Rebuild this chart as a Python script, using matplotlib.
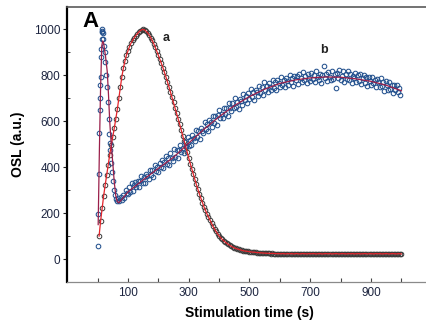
import numpy as np
import matplotlib
matplotlib.use('Agg')
import matplotlib.pyplot as plt

plt.rcParams['font.family'] = ['Liberation Sans', 'DejaVu Sans']

# ── data ──────────────────────────────────────────────────────────────────────
# curve a : 5 s channels, 5 .. 1000 s
t_a = np.arange(5, 1001, 5)
osl_a = [
    100, 165, 222, 275, 322, 365, 410, 455, 495, 532,
    570, 610, 652, 700, 750, 795, 832, 862, 888, 907,
    925, 940, 952, 962, 972, 980, 988, 994, 999, 1000,
    998, 992, 985, 976, 965, 952, 938, 922, 905, 888,
    870, 852, 834, 814, 793, 772, 750, 727, 705, 682,
    658, 635, 612, 588, 563, 538, 514, 490, 465, 440,
    416, 393, 370, 347, 325, 304, 284, 265, 246, 228,
    212, 197, 183, 168, 155, 142, 131, 120, 110, 101,
    93, 86, 80, 74, 69, 64, 60, 56, 52, 49,
    46, 44, 42, 40, 38, 36, 35, 34, 33, 32,
    31, 30, 30, 29, 28, 28, 27, 27, 26, 26,
    25, 25, 25, 24, 25, 24, 24, 23, 24, 23,
    23, 24, 23, 22, 24, 23, 23, 24, 22, 23,
    24, 23, 22, 23, 24, 23, 23, 22, 24, 23,
    23, 24, 23, 22, 23, 24, 23, 22, 23, 24,
    23, 23, 24, 22, 23, 23, 24, 23, 22, 23,
    24, 23, 23, 22, 24, 23, 23, 24, 22, 23,
    23, 24, 22, 23, 23, 24, 23, 22, 24, 23,
    23, 22, 24, 23, 23, 24, 22, 23, 23, 24,
    23, 22, 23, 24, 23, 23, 22, 24, 23, 22,
]

# curve b : fast early peak
t_b_early = [1, 2, 4, 6, 7, 8, 9, 10, 11, 12, 13, 14, 15, 16, 17, 19,
             21, 23, 26, 29, 32, 34, 36, 38, 40, 42, 45, 48, 51, 54, 57]
osl_b_early = [57, 198, 370, 550, 648, 700, 757, 793, 880, 916, 960, 990,
               1002, 995, 985, 958, 930, 901, 858, 800, 749, 684, 612, 546,
               504, 474, 420, 380, 340, 300, 278]

# curve b : 4 s channels, 60 .. 996 s
t_b_late = np.arange(60, 997, 4)
osl_b_late = [
    262, 252, 265, 253, 272, 256, 281, 265, 301, 288,
    282, 314, 294, 330, 297, 321, 337, 313, 340, 315,
    340, 363, 332, 356, 333, 371, 362, 349, 388, 364,
    387, 359, 410, 382, 401, 379, 418, 400, 431, 398,
    421, 448, 413, 441, 411, 460, 440, 428, 478, 444,
    473, 438, 476, 498, 465, 485, 460, 510, 492, 531,
    493, 519, 495, 542, 528, 513, 561, 531, 557, 524,
    571, 559, 550, 596, 567, 588, 559, 607, 595, 577,
    623, 593, 623, 585, 626, 650, 613, 632, 613, 656,
    633, 657, 624, 678, 658, 643, 681, 658, 703, 661,
    684, 655, 698, 687, 671, 717, 691, 711, 681, 725,
    698, 739, 706, 727, 691, 738, 728, 712, 752, 722,
    749, 716, 770, 738, 753, 728, 769, 751, 738, 780,
    747, 771, 735, 780, 769, 750, 792, 757, 778, 749,
    787, 775, 759, 803, 770, 789, 753, 799, 779, 796,
    763, 807, 789, 772, 815, 778, 797, 765, 806, 789,
    774, 811, 783, 803, 770, 817, 795, 779, 808, 766,
    801, 840, 787, 807, 776, 814, 795, 782, 818, 785,
    805, 743, 812, 788, 825, 778, 798, 818, 772, 806,
    786, 819, 779, 808, 765, 798, 789, 810, 772, 801,
    777, 808, 762, 789, 800, 768, 791, 753, 793, 776,
    758, 793, 767, 782, 749, 786, 771, 750, 787, 754,
    773, 734, 775, 759, 737, 773, 741, 759, 724, 760,
    737, 759, 726, 746, 715,
]

# fitted curve b
t_bfit = [2, 6, 10, 14, 17, 20, 26, 32, 36, 40, 45, 50, 55, 60, 65, 70, 80,
          100, 150, 200, 250, 300, 350, 400, 450, 500, 550, 600, 650, 700,
          750, 800, 850, 900, 950, 1000]
osl_bfit = [150, 474, 750, 930, 950, 940, 885, 815, 715, 600, 500, 420, 335,
            275, 250, 245, 260, 292, 345, 395, 443, 505, 565, 620, 668, 708,
            740, 765, 780, 789, 793, 792, 785, 774, 757, 733]

XTICKS = list(range(0, 1001, 100))
XTICKLABELS = ['' if v % 200 == 0 else str(v) for v in XTICKS]
YTICKS = list(range(0, 1001, 200))

TXT = '#1d2540'
BLUE = '#24528f'

# ── figure ────────────────────────────────────────────────────────────────────
fig = plt.figure(figsize=(4.26, 3.26), dpi=100)
ax = fig.add_axes([0.1577, 0.135, 0.8559, 0.845])

ax.plot(t_a, osl_a, ls='none', marker='o', ms=3.3, mfc='none',
        mec='#3a3a3a', mew=0.7, zorder=2)
ax.plot(t_b_early, osl_b_early, ls='none', marker='o', ms=3.3, mfc='none',
        mec=BLUE, mew=0.75, zorder=3)
ax.plot(t_b_late, osl_b_late, ls='none', marker='o', ms=3.3, mfc='none',
        mec=BLUE, mew=0.75, zorder=3)
ax.plot(t_a, osl_a, color='#e3242b', lw=0.9, zorder=4)
ax.plot(t_bfit, osl_bfit, color='#9b1f4a', lw=0.9, zorder=5)

ax.text(-50, 1036, 'A', fontsize=16, fontweight='bold', color='black',
        ha='left', va='center')
ax.text(224, 962, 'a', fontsize=9, fontweight='bold', color='#222222',
        ha='center', va='center')
ax.text(744, 910, 'b', fontsize=9, fontweight='bold', color='#222222',
        ha='center', va='center')

ax.set_xlim(-100, 1100)
ax.set_ylim(-100, 1100)
ax.set_xticks(XTICKS)
ax.set_xticklabels(XTICKLABELS)
ax.set_yticks(YTICKS)
ax.set_yticks(range(100, 1000, 200), minor=True)
ax.tick_params(axis='x', direction='in', length=3, width=0.8, pad=3.5,
               labelsize=8.5, labelcolor=TXT, color='#444444')
ax.tick_params(axis='y', which='major', direction='out', length=3, width=0.8,
               pad=2, labelsize=8.5, labelcolor=TXT, color='#222222')
ax.tick_params(axis='y', which='minor', direction='in', length=2, width=0.7,
               color='#444444')

ax.spines['left'].set_linewidth(1.6)
ax.spines['left'].set_color('black')
ax.spines['bottom'].set_linewidth(0.9)
ax.spines['bottom'].set_color('#8a8a8a')
ax.spines['top'].set_linewidth(1.2)
ax.spines['top'].set_color('#5a5a5a')
ax.spines['right'].set_visible(False)

ax.set_xlabel('Stimulation time (s)', fontsize=10, fontweight='bold',
              color='black', labelpad=5)
ax.set_ylabel('OSL (a.u.)', fontsize=10, fontweight='bold', color='black',
              labelpad=6)

fig.savefig('out.png', dpi=100, facecolor='white')
